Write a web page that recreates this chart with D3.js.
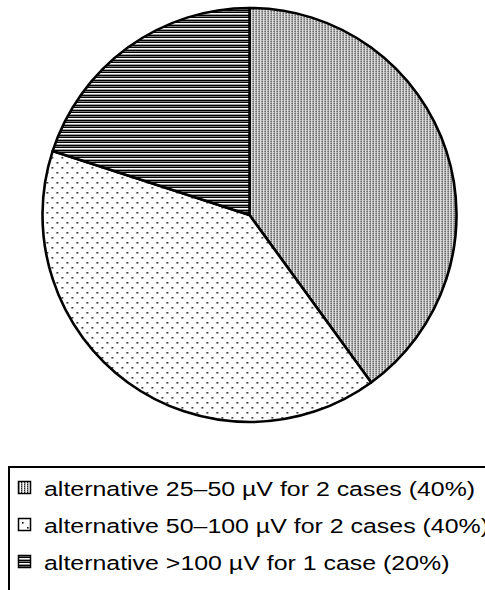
<!DOCTYPE html>
<html><head><meta charset="utf-8">
<script src="https://cdn.jsdelivr.net/npm/d3@7/dist/d3.min.js"></script>
<style>html,body{margin:0;padding:0;background:#fff;overflow:hidden}</style>
</head><body>
<svg id="c" width="485" height="590"></svg>
<script>
const categories = ["alternative 25\u201350 \u00b5V for 2 cases (40%)",
                    "alternative 50\u2013100 \u00b5V for 2 cases (40%)",
                    "alternative >100 \u00b5V for 1 case (20%)"];
const values = [2, 2, 1];
const patterns = ["pVert", "pDots", "pHoriz"];

const svg = d3.select("#c");
const defs = svg.append("defs");

// vertical dotted lines
const p1 = defs.append("pattern").attr("id","pVert").attr("patternUnits","userSpaceOnUse")
  .attr("width",3).attr("height",2);
p1.append("rect").attr("width",3).attr("height",2).attr("fill","#fff");
p1.append("rect").attr("x",0).attr("y",0).attr("width",1).attr("height",1).attr("fill","#222");
p1.append("rect").attr("x",0).attr("y",1).attr("width",1).attr("height",1).attr("fill","#888");
p1.append("rect").attr("x",1).attr("y",0).attr("width",1).attr("height",2).attr("fill","#bbb");

// sparse dots
const p2 = defs.append("pattern").attr("id","pDots").attr("patternUnits","userSpaceOnUse")
  .attr("width",10).attr("height",10);
p2.append("rect").attr("width",10).attr("height",10).attr("fill","#fff");
p2.append("rect").attr("x",2).attr("y",2).attr("width",1.6).attr("height",1.6).attr("fill","#111");
p2.append("rect").attr("x",7).attr("y",7).attr("width",1.6).attr("height",1.6).attr("fill","#111");

// horizontal lines
const p3 = defs.append("pattern").attr("id","pHoriz").attr("patternUnits","userSpaceOnUse")
  .attr("width",4).attr("height",5);
p3.append("rect").attr("width",4).attr("height",5).attr("fill","#fff");
p3.append("rect").attr("x",0).attr("y",0).attr("width",4).attr("height",1).attr("fill","#000");
p3.append("rect").attr("x",0).attr("y",1).attr("width",4).attr("height",1).attr("fill","#777");
p3.append("rect").attr("x",0).attr("y",2).attr("width",4).attr("height",1).attr("fill","#000");
p3.append("rect").attr("x",0).attr("y",4).attr("width",4).attr("height",1).attr("fill","#999");

const cx = 249.5, cy = 215, r = 207;
const pie = d3.pie().sort(null).value(d => d)(values);
const arc = d3.arc().innerRadius(0).outerRadius(r);

const g = svg.append("g").attr("transform", `translate(${cx},${cy})`);
g.selectAll("path").data(pie).join("path")
  .attr("d", arc)
  .attr("fill", (d,i) => `url(#${patterns[i]})`)
  .attr("stroke", "#000").attr("stroke-width", 2.6).attr("stroke-linejoin","round");

// legend
const lg = svg.append("g");
lg.append("rect").attr("x",9).attr("y",467).attr("width",500).attr("height",150)
  .attr("fill","none").attr("stroke","#000").attr("stroke-width",2);
const rowY = d3.scalePoint().domain(d3.range(categories.length)).range([488, 562]);
categories.forEach((c,i) => {
  const y = rowY(i);
  lg.append("rect").attr("x",18.5).attr("y",y-6.5).attr("width",12).attr("height",12)
    .attr("fill",`url(#${patterns[i]})`).attr("stroke","#000").attr("stroke-width",1.5);
  const t = lg.append("text").attr("x",44).attr("y",y+8)
    .attr("font-family","Liberation Sans, Arial, sans-serif").attr("font-size",20.5)
    .attr("fill","#000").text(c);
  const len = t.node().getComputedTextLength();
  t.attr("textLength", len * 1.215).attr("lengthAdjust","spacingAndGlyphs");
});
</script>
</body></html>
